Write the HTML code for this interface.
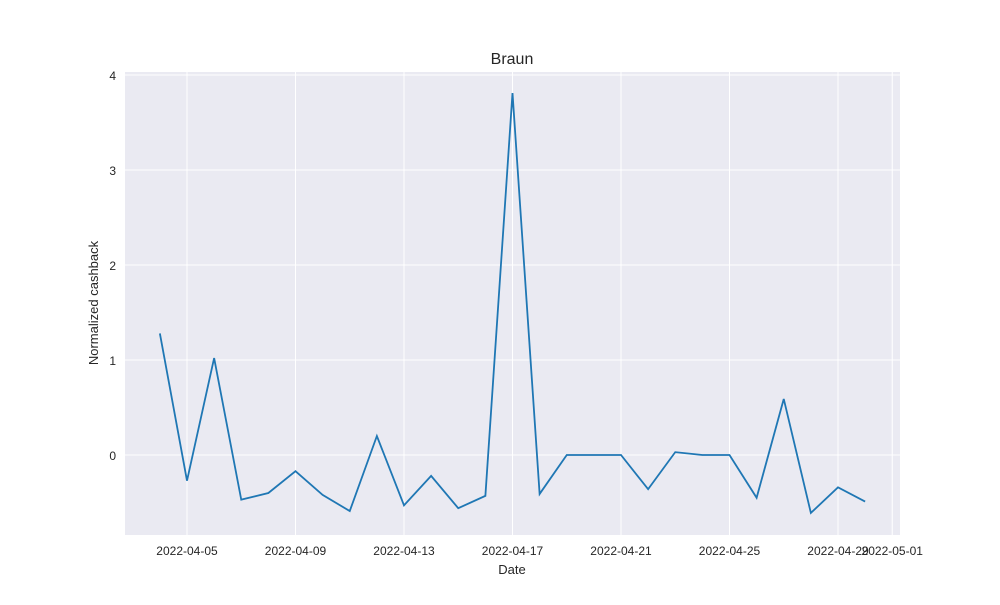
<!DOCTYPE html>
<html><head><meta charset="utf-8"><style>
body{margin:0;background:#fff;font-family:"Liberation Sans","DejaVu Sans",sans-serif;}
text{font-family:"Liberation Sans","DejaVu Sans",sans-serif;fill:#262626;}
</style></head><body>
<svg id="chart" width="1000" height="600" xmlns="http://www.w3.org/2000/svg">
<rect x="0" y="0" width="1000" height="600" fill="#fff"/>
<rect x="125" y="72" width="775" height="463" fill="#eaeaf2"/>
<g id="grid"></g>
<g id="ticks"></g>
<text x="512" y="64" text-anchor="middle" font-size="16">Braun</text>
<text x="512" y="574" text-anchor="middle" font-size="13">Date</text>
<text x="98" y="303" text-anchor="middle" font-size="13" transform="rotate(-90 98 303)">Normalized cashback</text>
<path id="series" fill="none" stroke="#1f77b4" stroke-width="1.8"/>
</svg>
<script>
const values=[1.28,-0.27,1.02,-0.47,-0.40,-0.17,-0.42,-0.59,0.20,-0.53,-0.22,-0.56,-0.43,3.81,-0.41,0,0,0,-0.36,0.03,0,0,-0.45,0.59,-0.61,-0.34,-0.49];
const startDay=4; // April 4, 2022
const xTickLabels=["2022-04-05","2022-04-09","2022-04-13","2022-04-17","2022-04-21","2022-04-25","2022-04-29","2022-05-01"];
const xTickDays=[5,9,13,17,21,25,29,31];
const yTicks=[0,1,2,3,4];
const X=d=>187+(d-5)*27.125;
const Y=v=>455-v*95;
const ns="http://www.w3.org/2000/svg";
const grid=document.getElementById('grid'),ticks=document.getElementById('ticks');
function mk(tag,attrs,parent){const e=document.createElementNS(ns,tag);for(const k in attrs)e.setAttribute(k,attrs[k]);parent.appendChild(e);return e;}
xTickDays.forEach((d,i)=>{
  const l=mk('line',{x1:X(d),x2:X(d),y1:72,y2:535,stroke:'#fff','stroke-width':1},grid);
  
  
  const t=mk('text',{x:X(d),y:555,'text-anchor':'middle','font-size':12},ticks);
  t.textContent=xTickLabels[i];
  
  
});
yTicks.forEach(v=>{
  const l=mk('line',{x1:125,x2:900,y1:Y(v),y2:Y(v),stroke:'#fff','stroke-width':1},grid);
  
  
  const t=mk('text',{x:116,y:Y(v)+5,'text-anchor':'end','font-size':12},ticks);
  t.textContent=String(v);
  
  
});
document.getElementById('series').setAttribute('d',values.map((v,i)=>(i?'L':'M')+X(startDay+i)+','+Y(v)).join(' '));
</script>
</body></html>
